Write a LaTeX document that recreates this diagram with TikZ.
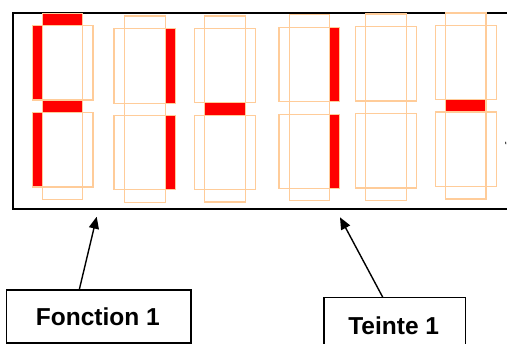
\documentclass[tikz,border=0pt]{standalone}
\usepackage{fontspec}
\setmainfont{Liberation Sans}
\usetikzlibrary{arrows.meta}
\definecolor{segline}{RGB}{255,204,153}
\definecolor{segred}{RGB}{255,0,0}
\tikzset{
  seg/.style={draw=segline, line width=1.1pt},
  lit/.style={fill=segred},
  frame/.style={draw=black, line width=1.8pt},
  labelbox/.style={draw=black, line width=1.3pt, inner sep=0pt},
  lbl/.style={inner sep=0pt, anchor=base, font=\fontsize{24.5}{28}\selectfont\bfseries},
  arr/.style={draw=black, line width=1.4pt, -{Triangle[length=12pt,width=10pt]}}
}
\begin{document}
\begin{tikzpicture}[x=1pt,y=-1pt]
\clip (0,0) rectangle (507,344);
\useasboundingbox (0,0) rectangle (507,344);
% outer frame
\draw[frame] (13,13) rectangle (530,209);
% lit segments
\fill[lit] (42.7,13.3) rectangle (82.7,25.3);
\fill[lit] (32.7,25.3) rectangle (42.7,100);
\fill[lit] (42.7,100) rectangle (82.7,112.3);
\fill[lit] (32.7,112.3) rectangle (42.7,187);
\fill[lit] (165.7,28.7) rectangle (175.3,103.3);
\fill[lit] (165.7,115.3) rectangle (175.3,189.7);
\fill[lit] (204.7,102.7) rectangle (245.7,115.3);
\fill[lit] (329.7,27.3) rectangle (339.7,101.7);
\fill[lit] (329.7,114.3) rectangle (339.7,188.7);
\fill[lit] (445.7,99.7) rectangle (486,112);
% segment outlines: digit 1
\draw[seg] (42.7,13.3) rectangle (82.7,199.3);
\draw[seg] (32.7,25.3) rectangle (93,100);
\draw[seg] (32.7,112.3) rectangle (93,187);
% digit 2
\draw[seg] (124.3,16) rectangle (165.7,202.3);
\draw[seg] (114,28.7) rectangle (175.3,103.3);
\draw[seg] (114,115.3) rectangle (175.3,189.7);
% digit 3
\draw[seg] (204.7,16) rectangle (245.7,202);
\draw[seg] (194.7,28.3) rectangle (255.7,102.7);
\draw[seg] (194.7,115.3) rectangle (255.7,189.3);
% digit 4
\draw[seg] (289.3,14.7) rectangle (329.7,200.7);
\draw[seg] (279,27.3) rectangle (339.7,101.7);
\draw[seg] (279,114.3) rectangle (339.7,188.7);
% digit 5
\draw[seg] (365.7,14) rectangle (406.7,200.3);
\draw[seg] (355.7,26.7) rectangle (416.7,101);
\draw[seg] (355.7,113.7) rectangle (416.7,188);
% digit 6
\draw[seg] (445.7,13) rectangle (486,199);
\draw[seg] (435.7,25.3) rectangle (496.3,99.7);
\draw[seg] (435.7,112) rectangle (496.3,186.3);
% small cut-off mark at right edge
\draw[black, line width=0.8pt] (505.6,141.8) -- (505.9,144.2);
% label boxes
\node[labelbox, minimum width=184.3pt, minimum height=53pt] (f1) at (98.85,316.5) {};
\node[lbl] (f1t) at (97.8,326) {Fonction 1};
\node[labelbox, minimum width=141.3pt, minimum height=62pt] (t1) at (394.65,328.7) {};
\node[lbl] (t1t) at (393.7,334.3) {Teinte 1};
% arrow targets
\coordinate (a1) at (96.7,216.7);
\coordinate (a2) at (340,217.3);
\draw[arr] ([xshift=73.3pt]f1.north west) -- (a1);
\draw[arr] ([xshift=59.3pt]t1.north west) -- (a2);
\end{tikzpicture}
\end{document}
